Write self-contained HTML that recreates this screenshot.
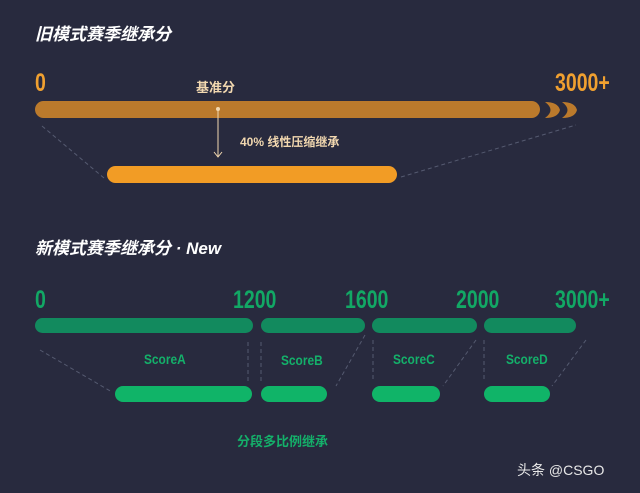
<!DOCTYPE html>
<html><head><meta charset="utf-8"><style>
body{margin:0;width:640px;height:493px;background:#282a3e;position:relative;overflow:hidden;font-family:"Liberation Sans","Noto Sans CJK SC",sans-serif;}
.a{position:absolute;}
.t{color:#fff;font-weight:bold;font-size:17px;font-style:italic;}
.n{font-weight:bold;font-size:25px;transform:scaleX(0.78);transform-origin:left top;line-height:25px;}
.o{color:#f0a030;}
.g{color:#12a865;}
.bar{position:absolute;border-radius:9px;}
.gb{background:#128a5e;height:15px;border-radius:8px;}
.gl{background:#10b468;height:16px;border-radius:8px;}
.s{color:#14b06a;font-weight:bold;font-size:14px;transform:scaleX(0.85);transform-origin:left top;}
</style></head><body>
<div class="a t" style="left:35px;top:20px;">旧模式赛季继承分</div>
<div class="a n o" style="left:35px;top:71px;">0</div>
<div class="a n o" style="left:555px;top:71px;">3000+</div>
<div class="a" style="left:196px;top:77px;color:#f2d8b0;font-weight:bold;font-size:13px;">基准分</div>
<div class="bar" style="left:35px;top:101px;width:505px;height:17px;background:#bb7a2c;"></div>
<div class="a" style="left:240px;top:133px;color:#f2d8b0;font-weight:bold;font-size:12px;">40% 线性压缩继承</div>
<div class="bar" style="left:107px;top:166px;width:290px;height:17px;background:#f29c25;"></div>
<svg class="a" style="left:0;top:0" width="640" height="493">
<path d="M545 102 Q556 110 545 118 Q558 118 560 110 Q558 102 545 102Z" fill="#bb7a2c"/>
<path d="M562 102 Q573 110 562 118 Q575 118 577 110 Q575 102 562 102Z" fill="#bb7a2c"/>
<circle cx="218" cy="109" r="2" fill="#f2d8b0"/>
<line x1="218" y1="109" x2="218" y2="157" stroke="#f2d8b0" stroke-width="1"/>
<path d="M214 152 L218 157 L222 152" stroke="#f2d8b0" fill="none"/>
<g stroke="#555a70" stroke-width="1" stroke-dasharray="4,3" fill="none">
<line x1="42" y1="126" x2="104" y2="178"/>
<line x1="401" y1="177" x2="576" y2="125"/>
<line x1="40" y1="350" x2="112" y2="392"/>
<line x1="248" y1="342" x2="248" y2="382"/>
<line x1="261" y1="342" x2="261" y2="382"/>
<line x1="365" y1="335" x2="336" y2="386"/>
<line x1="373" y1="340" x2="373" y2="382"/>
<line x1="476" y1="340" x2="443" y2="386"/>
<line x1="484" y1="340" x2="484" y2="382"/>
<line x1="586" y1="340" x2="552" y2="386"/>
</g>
</svg>
<div class="a t" style="left:35px;top:234px;">新模式赛季继承分 · New</div>
<div class="a n g" style="left:35px;top:288px;">0</div>
<div class="a n g" style="left:233px;top:288px;">1200</div>
<div class="a n g" style="left:345px;top:288px;">1600</div>
<div class="a n g" style="left:456px;top:288px;">2000</div>
<div class="a n g" style="left:555px;top:288px;">3000+</div>
<div class="bar gb" style="left:35px;top:318px;width:218px;"></div>
<div class="bar gb" style="left:261px;top:318px;width:104px;"></div>
<div class="bar gb" style="left:372px;top:318px;width:105px;"></div>
<div class="bar gb" style="left:484px;top:318px;width:92px;"></div>
<div class="a s" style="left:144px;top:351px;">ScoreA</div>
<div class="a s" style="left:281px;top:352px;">ScoreB</div>
<div class="a s" style="left:393px;top:351px;">ScoreC</div>
<div class="a s" style="left:506px;top:351px;">ScoreD</div>
<div class="bar gl" style="left:115px;top:386px;width:137px;"></div>
<div class="bar gl" style="left:261px;top:386px;width:66px;"></div>
<div class="bar gl" style="left:372px;top:386px;width:68px;"></div>
<div class="bar gl" style="left:484px;top:386px;width:66px;"></div>
<div class="a" style="left:237px;top:431px;color:#14b06a;font-weight:bold;font-size:13px;">分段多比例继承</div>
<div class="a" style="left:517px;top:460px;color:#e8e8e8;font-size:14px;">头条 @CSGO</div>
</body></html>
